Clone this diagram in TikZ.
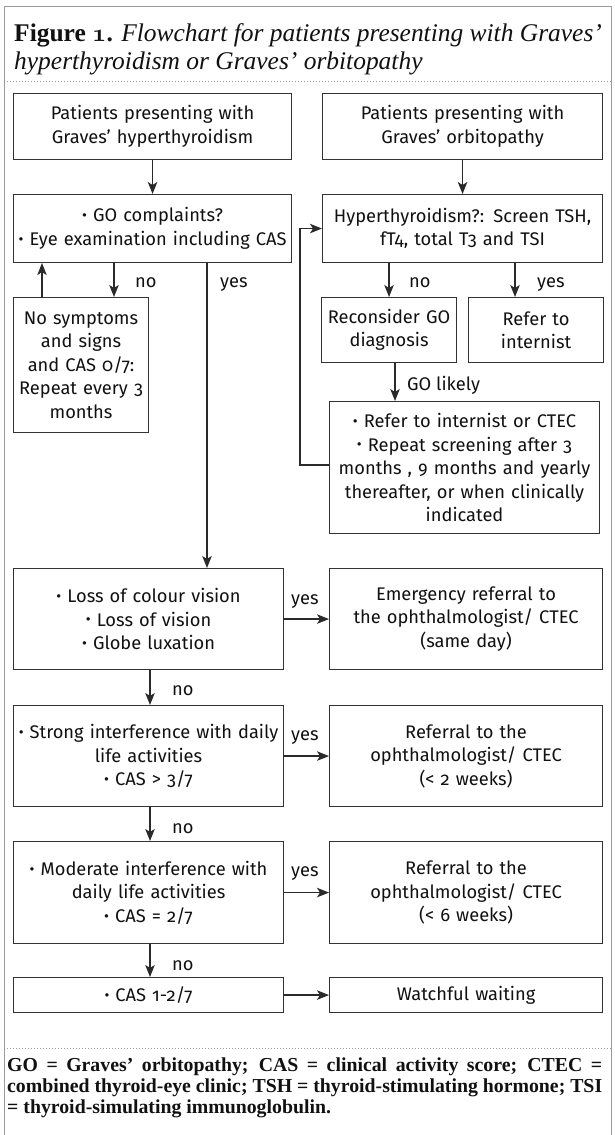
\documentclass[tikz,border=0pt]{standalone}
\usepackage{fontspec}
\usepackage{graphicx}
\usetikzlibrary{arrows.meta,calc}
\newfontfamily\boxfont{Fira Sans}[Numbers=OldStyle]
\newfontfamily\legfont{Liberation Serif}
\definecolor{boxc}{HTML}{333333}
\definecolor{txt}{HTML}{111111}
\definecolor{arrc}{HTML}{2A2A2A}
\definecolor{framec}{HTML}{9A9A9A}
\newlength\fitw
\newcommand\oldone{{\boldmath$\mathnormal{1}$}}
\newcommand\bul{\raisebox{0.06em}{\scalebox{0.82}{•}}}
\newcommand\flowbox[6]{%
  \node[box, minimum width={(#4-(#2))*1pt}, minimum height={(#5-(#3))*1pt},
        text width={(#4-(#2)-5)*1pt}] (#1) at (#2,#3) {#6};}
\begin{document}
\settowidth\fitw{\boxfont\fontsize{10pt}{12pt}\selectfont \bul\ Eye examination including CAS}%
\pgfmathsetmacro\bsz{10*263/\fitw}%
\settowidth\fitw{\legfont\fontsize{10pt}{12pt}\selectfont\textbf{Figure \oldone.} \textit{Flowchart for patients presenting with Graves’}}%
\pgfmathsetmacro\tsz{10*588/\fitw}%
\settowidth\fitw{\legfont\bfseries\fontsize{10pt}{12pt}\selectfont combined thyroid-eye clinic; TSH = thyroid-stimulating hormone; TSI}%
\pgfmathsetmacro\lsz{10*595/\fitw}%
\begin{tikzpicture}[x=1pt,y=-1pt]
\useasboundingbox (0,0) rectangle (615,1135);
\fill[white] (0,0) rectangle (615,1135);
\tikzset{
  box/.style={draw=boxc, line width=1.1pt, inner sep=2pt, align=center, anchor=north west,
    text=txt, font=\boxfont\fontsize{\bsz pt}{23.5pt}\selectfont},
  lab/.style={inner sep=0pt, anchor=base west, text=txt, font=\boxfont\fontsize{\bsz pt}{23.5pt}\selectfont},
  arr/.style={draw=arrc, line width=1.15pt, -{Stealth[length=12pt,width=9.5pt,inset=3pt]}},
  ttl/.style={inner sep=0pt, anchor=base west, text=txt, font=\legfont\fontsize{\tsz pt}{29pt}\selectfont},
  leg/.style={inner sep=0pt, anchor=base west, text=txt, font=\legfont\bfseries\fontsize{\lsz pt}{21pt}\selectfont},
}
% frame
\draw[framec, line width=1pt] (4,1135) -- (4,6) -- (611,6) -- (611,1135);
\draw[framec, line width=0.9pt, dash pattern=on 1pt off 2pt] (4,81) -- (611,81);
\draw[framec, line width=0.9pt, dash pattern=on 1pt off 2pt] (4,1048) -- (611,1048);
% title
\node[ttl] (t1) at (14,41) {\textbf{Figure \oldone.} \textit{Flowchart for patients presenting with Graves’}};
\node[ttl] (t2) at (14,69) {\textit{hyperthyroidism or Graves’ orbitopathy}};
% boxes
\flowbox{hyp}{13}{93}{291}{159}{Patients presenting with\\Graves’ hyperthyroidism}
\flowbox{orb}{322}{93}{602}{159}{Patients presenting with\\Graves’ orbitopathy}
\flowbox{go}{13}{194}{291}{262}{\bul\ GO complaints?\\\bul\ Eye examination including CAS}
\flowbox{scr}{322}{194}{602}{262}{Hyperthyroidism?: Screen TSH,\\fT4, total T3 and TSI}
\flowbox{nos}{13}{297}{148}{432}{No symptoms\\and signs\\and CAS 0/7:\\Repeat every 3\\months}
\flowbox{rec}{321}{297}{456}{362}{Reconsider GO\\diagnosis}
\flowbox{ref}{468}{297}{603}{362}{Refer to\\internist}
\flowbox{rep}{329}{401}{599}{533}{\bul\ Refer to internist or CTEC\\\bul\ Repeat screening after 3\\months , 9 months and yearly\\thereafter, or when clinically\\indicated}
\flowbox{loss}{13}{568}{283}{669}{\bul\ Loss of colour vision\\\bul\ Loss of vision\\\bul\ Globe luxation}
\flowbox{emg}{329}{568}{602}{669}{Emergency referral to\\the ophthalmologist/ CTEC\\(same day)}
\flowbox{str}{13}{705}{283}{806}{\bul\ Strong interference with daily\\life activities\\\bul\ CAS > 3/7}
\flowbox{rtwo}{329}{705}{602}{806}{Referral to the\\ophthalmologist/ CTEC\\(< 2 weeks)}
\flowbox{mod}{13}{841}{283}{943}{\bul\ Moderate interference with\\daily life activities\\\bul\ CAS = 2/7}
\flowbox{rsix}{329}{841}{602}{943}{Referral to the\\ophthalmologist/ CTEC\\(< 6 weeks)}
\flowbox{cas}{13}{977}{283}{1012}{\bul\ CAS 1-2/7}
\flowbox{ww}{329}{977}{602}{1012}{Watchful waiting}
% helper coordinates
\coordinate (xup) at (42,0);
\coordinate (xno) at (114,0);
\coordinate (xyes) at (207,0);
\coordinate (xryes) at (515,0);
\coordinate (xgol) at (395,0);
\coordinate (xl) at (150,0);
\coordinate (xloop) at (300,0);
\coordinate (yloop) at (0,465);
% connectors
\draw[arr] (hyp) -- (go);
\draw[arr] (orb) -- (scr);
\draw[arr] (go.south -| xno) -- (nos.north -| xno);
\draw[arr] (nos.north -| xup) -- (go.south -| xup);
\draw[arr] (go.south -| xyes) -- (loss.north -| xyes);
\draw[arr] (scr.south -| rec.north) -- (rec.north);
\draw[arr] (scr.south -| xryes) -- (ref.north -| xryes);
\draw[arr] (rec.south -| xgol) -- (rep.north -| xgol);
\draw[arr] (rep.west |- yloop) -- (xloop |- yloop) -- (xloop |- scr.west) -- (scr.west);
\draw[arr] (loss.east) -- (emg.west);
\draw[arr] (str.east) -- (rtwo.west);
\draw[arr] (mod.east) -- (rsix.west);
\draw[arr] (cas.east) -- (ww.west);
\draw[arr] (loss.south -| xl) -- (str.north -| xl);
\draw[arr] (str.south -| xl) -- (mod.north -| xl);
\draw[arr] (mod.south -| xl) -- (cas.north -| xl);
% labels
\node[lab] (n1) at (135,287) {no};
\node[lab] (y1) at (220,287) {yes};
\node[lab] (n2) at (409,287) {no};
\node[lab] (y2) at (537,287) {yes};
\node[lab] (gl) at (407,390) {GO likely};
\node[lab] (y3) at (291,604) {yes};
\node[lab] (n3) at (172,695) {no};
\node[lab] (y4) at (291,740) {yes};
\node[lab] (n4) at (172,833) {no};
\node[lab] (y5) at (291,876) {yes};
\node[lab] (n5) at (172,970) {no};
% legend
\node[leg] (lg1) at (7,1071) {\makebox[595pt][s]{GO = Graves’ orbitopathy; CAS = clinical activity score; CTEC =}};
\node[leg] (lg2) at (7,1092) {\makebox[595pt][s]{combined thyroid-eye clinic; TSH = thyroid-stimulating hormone; TSI}};
\node[leg] (lg3) at (7,1113) {= thyroid-simulating immunoglobulin.};
\end{tikzpicture}
\end{document}
